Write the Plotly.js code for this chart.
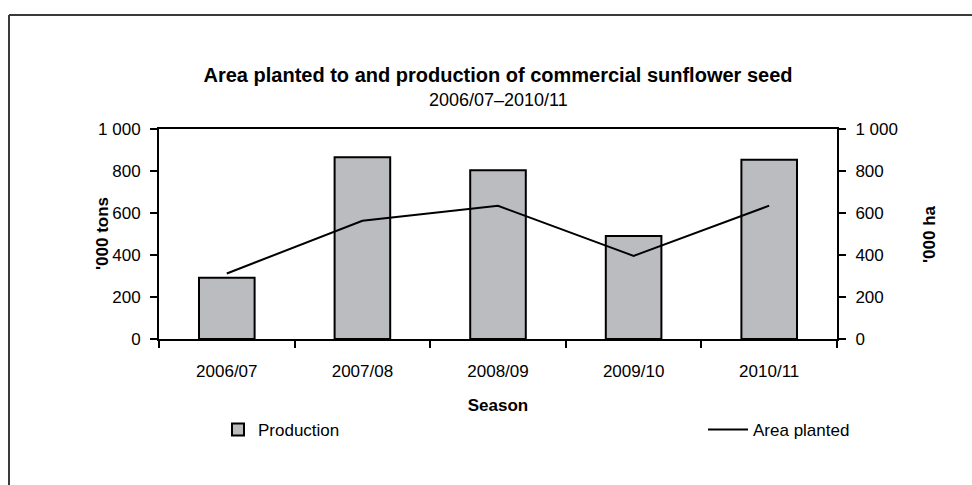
<!DOCTYPE html>
<html>
<head>
<meta charset="utf-8">
<script src="https://cdn.plot.ly/plotly-3.0.1.min.js"></script>
<style>
  html, body { margin: 0; padding: 0; background: #ffffff; }
  #chart { width: 972px; height: 485px; }
</style>
</head>
<body>
<div id="chart"></div>
<script>
// Data
const seasons = ["2006/07", "2007/08", "2008/09", "2009/10", "2010/11"];
const production = [292, 866, 803, 490, 853];      // '000 tons (left axis)
const areaPlanted = [312, 563, 634, 396, 635];     // '000 ha (right axis)
const yTicks = [0, 200, 400, 600, 800, 1000];

const FONT = "Liberation Sans, Arial, sans-serif";
const FS = 17;

const traces = [
  {
    type: "bar",
    name: "Production",
    x: seasons,
    y: production,
    marker: { color: "#bbbcc0", line: { color: "#000000", width: 2 } },
    legend: "legend",
    hoverinfo: "x+y"
  },
  {
    type: "scatter",
    mode: "lines",
    name: "Area planted",
    x: seasons,
    y: areaPlanted,
    yaxis: "y2",
    line: { color: "#000000", width: 2 },
    legend: "legend2",
    hoverinfo: "x+y"
  }
];

const layout = {
  width: 972,
  height: 485,
  margin: { l: 159, r: 135, t: 129, b: 146 },
  paper_bgcolor: "#ffffff",
  plot_bgcolor: "#ffffff",
  separators: ". ",
  font: { family: FONT, size: FS, color: "#000000" },
  bargap: 0.59,
  showlegend: true,
  title: {
    text: "<b>Area planted to and production of commercial sunflower seed</b>",
    font: { family: FONT, size: 20, color: "#000000" },
    x: 0.5, xref: "paper", xanchor: "center",
    y: 1 - 75 / 485, yref: "container", yanchor: "middle"
  },
  annotations: [
    {
      text: "2006/07–2010/11",
      xref: "paper", yref: "paper",
      x: 0.5, y: (339 - 100) / 210,
      xanchor: "center", yanchor: "middle",
      showarrow: false,
      font: { family: FONT, size: 18, color: "#000000" }
    },
    {
      text: "<b>'000 tons</b>",
      xref: "paper", yref: "paper",
      x: (102 - 159) / 678, y: 0.5,
      xanchor: "center", yanchor: "middle",
      textangle: -90,
      showarrow: false,
      font: { family: FONT, size: FS, color: "#000000" }
    },
    {
      text: "<b>'000 ha</b>",
      xref: "paper", yref: "paper",
      x: (929 - 159) / 678, y: 0.5,
      xanchor: "center", yanchor: "middle",
      textangle: -90,
      showarrow: false,
      font: { family: FONT, size: FS, color: "#000000" }
    }
  ],
  xaxis: {
    type: "category",
    showline: true, linecolor: "#000000", linewidth: 2, mirror: true,
    ticks: "outside", ticklen: 7, tickwidth: 2, tickcolor: "#000000",
    tickson: "boundaries",
    ticklabelstandoff: 16,
    showgrid: false, zeroline: false,
    tickfont: { family: FONT, size: FS },
    title: { text: "<b>Season</b>", font: { family: FONT, size: FS }, standoff: 19 }
  },
  yaxis: {
    range: [0, 1000],
    tickvals: yTicks,
    tickformat: ",d",
    showline: true, linecolor: "#000000", linewidth: 2,
    ticks: "outside", ticklen: 7, tickwidth: 2, tickcolor: "#000000",
    ticklabelstandoff: 6,
    showgrid: false, zeroline: false,
    tickfont: { family: FONT, size: FS }
  },
  yaxis2: {
    range: [0, 1000],
    tickvals: yTicks,
    tickformat: ",d",
    overlaying: "y",
    side: "right",
    showline: true, linecolor: "#000000", linewidth: 2,
    ticks: "outside", ticklen: 7, tickwidth: 2, tickcolor: "#000000",
    ticklabelstandoff: 6,
    showgrid: false, zeroline: false,
    tickfont: { family: FONT, size: FS }
  },
  legend: {
    orientation: "h",
    x: (218 - 159) / 678, xanchor: "left",
    y: (339 - 430) / 210, yanchor: "middle",
    bgcolor: "rgba(0,0,0,0)",
    font: { family: FONT, size: FS },
    itemwidth: 30
  },
  legend2: {
    orientation: "h",
    x: (703 - 159) / 678, xanchor: "left",
    y: (339 - 430) / 210, yanchor: "middle",
    bgcolor: "rgba(0,0,0,0)",
    font: { family: FONT, size: FS },
    itemwidth: 40
  },
  shapes: [
    {
      type: "line", xref: "paper", yref: "paper",
      x0: (9 - 159) / 678, x1: (9 - 159) / 678,
      y0: (339 - 15) / 210, y1: (339 - 490) / 210,
      line: { color: "#3a3a3a", width: 2 }
    },
    {
      type: "line", xref: "paper", yref: "paper",
      x0: (9 - 159) / 678, x1: (975 - 159) / 678,
      y0: (339 - 15) / 210, y1: (339 - 15) / 210,
      line: { color: "#3a3a3a", width: 2 }
    }
  ]
};

Plotly.newPlot("chart", traces, layout, { displayModeBar: false, staticPlot: true });
</script>
</body>
</html>
